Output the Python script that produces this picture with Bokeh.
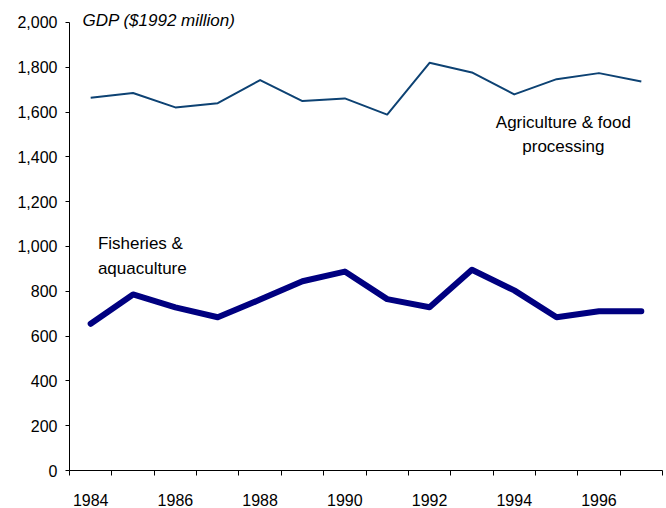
from bokeh.plotting import figure
from bokeh.models import Range1d, FixedTicker, NumeralTickFormatter, Label
from bokeh.embed import file_html
from bokeh.resources import INLINE

years = list(range(1984, 1998))
agriculture = [1664, 1685, 1621, 1640, 1743, 1649, 1661, 1589, 1820, 1777, 1679, 1747, 1774, 1737]
fisheries = [655, 786, 728, 684, 763, 845, 888, 765, 729, 896, 804, 684, 711, 711]
x_tick_labels = [1984, 1986, 1988, 1990, 1992, 1994, 1996]
y_ticks = list(range(0, 2001, 200))

FONT = "Liberation Sans"

# frame spans the full canvas height above the x axis; y axis line bounded to 0..2000
p = figure(width=666, height=508, output_backend="svg", toolbar_location=None,
           x_range=Range1d(1983.5, 1997.5), y_range=Range1d(0, 2098.2),
           min_border_left=69, min_border_right=4, min_border_top=0, min_border_bottom=38)
p.outline_line_color = None
p.xgrid.grid_line_color = None
p.ygrid.grid_line_color = None
p.background_fill_color = "white"
p.border_fill_color = "white"

p.line(years, agriculture, line_color="#0d4273", line_width=2, line_join="round")
p.line(years, fisheries, line_color="#000080", line_width=6, line_join="round", line_cap="round")

xa = p.xaxis[0]
xa.ticker = FixedTicker(ticks=x_tick_labels, minor_ticks=[y + 0.5 for y in range(1983, 1998)])
xa.major_tick_in = 0
xa.major_tick_out = 0
xa.minor_tick_in = 0
xa.minor_tick_out = 5
xa.minor_tick_line_color = "black"
xa.axis_line_color = "black"
xa.major_label_standoff = 18
xa.major_label_text_font = FONT
xa.major_label_text_font_size = "16px"
xa.major_label_text_color = "black"

ya = p.yaxis[0]
ya.ticker = FixedTicker(ticks=y_ticks)
ya.bounds = (0, 2000)
ya.formatter = NumeralTickFormatter(format="0,0")
ya.major_tick_in = 0
ya.major_tick_out = 4
ya.minor_tick_line_color = None
ya.axis_line_color = "black"
ya.major_tick_line_color = "black"
ya.major_label_standoff = 8
ya.major_label_text_font = FONT
ya.major_label_text_font_size = "16px"
ya.major_label_text_color = "black"

def add_text(x, y, txt, align="left", size="17px", style="normal"):
    p.add_layout(Label(x=x, y=y, text=txt, text_font=FONT, text_font_size=size,
                       text_font_style=style, text_align=align,
                       text_baseline="alphabetic", text_color="black"))

add_text(1983.807, 2007, "GDP ($1992 million)", style="italic")
add_text(1995.16, 1554, "Agriculture & food", align="center")
add_text(1995.16, 1448, "processing", align="center")
add_text(1984.17, 1012, "Fisheries &")
add_text(1984.17, 904, "aquaculture")

open("out.html", "w").write(file_html(p, INLINE))
